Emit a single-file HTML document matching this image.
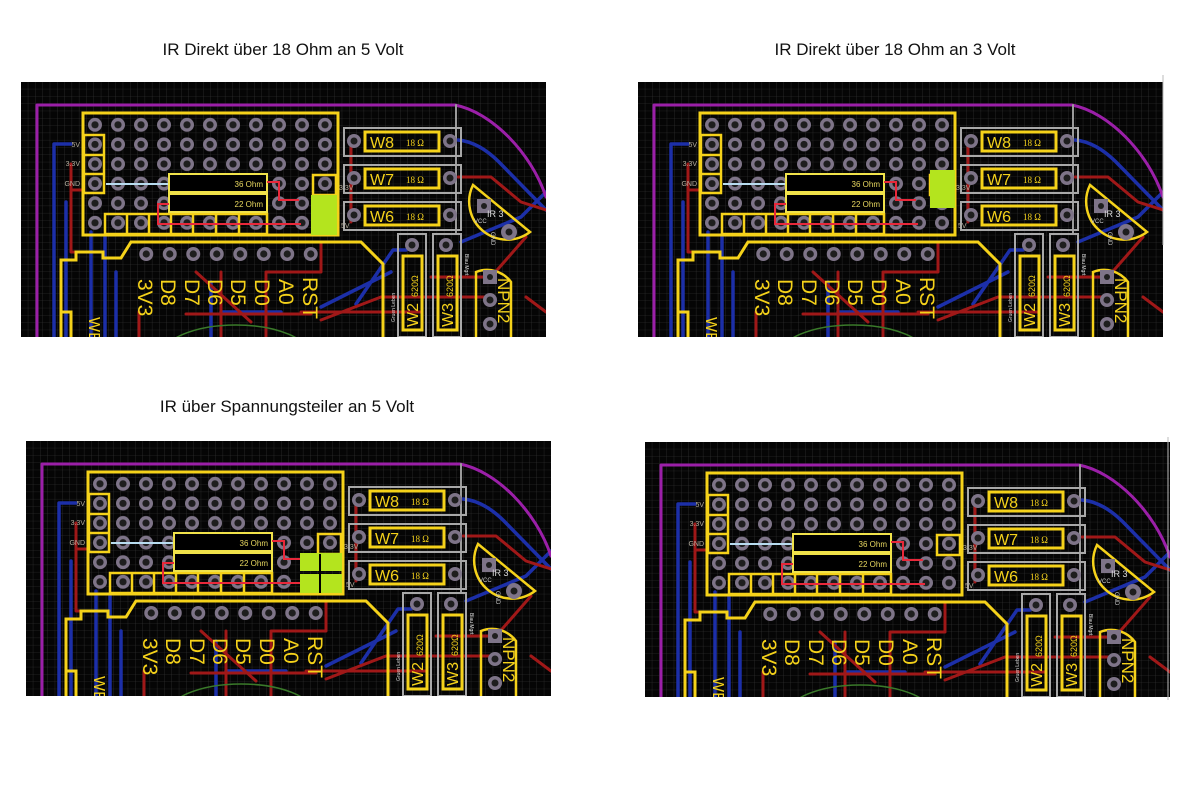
<!DOCTYPE html>
<html><head><meta charset="utf-8"><style>
html,body{margin:0;padding:0;background:#fff;width:1200px;height:792px;overflow:hidden}
svg{display:block}
</style></head><body>
<svg width="1200" height="792" viewBox="0 0 1200 792" xmlns="http://www.w3.org/2000/svg">
<defs>
<clipPath id="pc"><rect x="0" y="0" width="525" height="255"/></clipPath>
<pattern id="grid" width="7.3" height="7.3" patternUnits="userSpaceOnUse">
<path d="M7.3,0 V7.3 H0" fill="none" stroke="#3a3a3a" stroke-width="0.6"/>
</pattern>
<pattern id="holes" x="62.5" y="33" width="23" height="19.6" patternUnits="userSpaceOnUse">
<circle cx="11.5" cy="9.8" r="7" fill="#7e7488"/><circle cx="11.5" cy="9.8" r="3.6" fill="#1e1e1e"/>
</pattern>
<pattern id="pins" x="113.5" y="160" width="23.5" height="24" patternUnits="userSpaceOnUse">
<circle cx="11.75" cy="12" r="7" fill="#7e7488"/><circle cx="11.75" cy="12" r="3.6" fill="#1e1e1e"/>
</pattern>
<g id="base">
<g clip-path="url(#pc)">
<rect width="525" height="255" fill="#050505"/>
<rect width="525" height="255" fill="url(#grid)"/>
<g fill="none" stroke-linecap="round" stroke-linejoin="round">
<path d="M50,62 H33 V255 M45,120 V255 M437,58 Q458,60 478,80 L525,128 M335,222 L372,168 H385 M300,225 L370,190 M70,150 V255 M84,155 V255 M95,190 V255 M190,200 V255 M200,230 H260 M440,160 L500,135 L525,110" stroke="#1c2fa8" stroke-width="3.5"/>
<path d="M50,82 V170 H70 M50,108 H62 M330,60 V140 M437,95 H470 L500,120 L525,128 M300,160 V190 H245 M410,195 H470 L505,155 M280,230 H400 M245,190 V255 M175,190 L230,240 M200,190 V255 M300,238 L360,215 H470 M165,232 H290 M118,230 V255 M505,215 L525,230" stroke="#a01818" stroke-width="3"/>
<path d="M16,255 V23 H434 C470,30 510,70 525,115" stroke="#9b1fa8" stroke-width="3"/>
<path d="M435,23 V152" stroke="#9a9a9a" stroke-width="2"/>
<ellipse cx="215" cy="275" rx="75" ry="32" stroke="#3a7a2a" stroke-width="1.5"/>
</g>
<g fill="none" stroke="#f5d21a" stroke-width="3">
<path d="M40,255 V178 H55 V170 H82 V176 H100 L110,160 H340 L362,182 V255"/>
<path d="M40,230 H50 V255"/>
<rect x="62" y="31" width="255" height="122"/>
</g>
<rect x="62" y="33" width="255" height="120" fill="url(#holes)"/>
<rect x="113" y="160" width="188" height="24" fill="url(#pins)"/>
<g fill="none" stroke="#f5d21a" stroke-width="2.5">
<rect x="63" y="53" width="20" height="58"/><path d="M63,73 H83 M63,92 H83"/>
<rect x="84" y="132" width="162" height="20"/><path d="M106,132 V152 M128,132 V152 M150,132 V152 M172,132 V152 M195,132 V152 M218,132 V152"/>
<rect x="292" y="93" width="23" height="20"/>
</g>
<path d="M85,102 H148" stroke="#b8dcf0" stroke-width="2"/>
<rect x="148" y="92" width="98" height="18" fill="#000" stroke="#f0e24a" stroke-width="2"/>
<rect x="148" y="112" width="98" height="18" fill="#000" stroke="#f0e24a" stroke-width="2"/>
<path d="M246,100 H258 V118 H278 M148,122 H137 V142 H280" fill="none" stroke="#e8283a" stroke-width="2"/>
<g fill="none" stroke="#a8a8a8" stroke-width="2">
<rect x="323" y="46" width="117" height="28"/><rect x="323" y="83" width="117" height="28"/><rect x="323" y="120" width="117" height="28"/>
<rect x="377" y="152" width="28" height="103"/><rect x="412" y="152" width="28" height="103"/>
</g>
<g fill="none" stroke="#f5d21a" stroke-width="3">
<rect x="344" y="50" width="74" height="19"/><rect x="344" y="87" width="74" height="19"/><rect x="344" y="124" width="74" height="19"/>
<rect x="382" y="174" width="19" height="74"/><rect x="417" y="174" width="19" height="74"/>
<path d="M452,103 L509,150 A38,38 0 0 1 452,103 Z" stroke-width="2.5"/>
<path d="M490,255 V200 A30,30 0 0 0 455,190 V255" stroke-width="2.5"/>
</g>
<g fill="#7e7488">
<circle cx="333" cy="59" r="7"/><circle cx="429" cy="59" r="7"/>
<circle cx="333" cy="96" r="7"/><circle cx="429" cy="96" r="7"/>
<circle cx="333" cy="133" r="7"/><circle cx="429" cy="133" r="7"/>
<circle cx="391" cy="163" r="7"/><circle cx="425" cy="163" r="7"/>
<circle cx="488" cy="150" r="8"/><circle cx="469" cy="218" r="7"/><circle cx="469" cy="242" r="7"/>
<rect x="456" y="117" width="14" height="14"/><rect x="462" y="188" width="14" height="14"/>
</g>
<g fill="#1e1e1e">
<circle cx="333" cy="59" r="3.5"/><circle cx="429" cy="59" r="3.5"/>
<circle cx="333" cy="96" r="3.5"/><circle cx="429" cy="96" r="3.5"/>
<circle cx="333" cy="133" r="3.5"/><circle cx="429" cy="133" r="3.5"/>
<circle cx="391" cy="163" r="3.5"/><circle cx="425" cy="163" r="3.5"/>
<circle cx="488" cy="150" r="3.5"/><circle cx="469" cy="218" r="3.5"/><circle cx="469" cy="242" r="3.5"/>
<circle cx="463" cy="124" r="3"/><circle cx="469" cy="195" r="3"/>
</g>
<g font-family="Liberation Sans, sans-serif">
<g font-size="7" fill="#b8b0a0" text-anchor="end">
<text x="59" y="65">5V</text><text x="59" y="84">3.3V</text><text x="59" y="104">GND</text>
</g>
<text x="318" y="108" font-size="7" fill="#b8b0a0">3.3V</text>
<text x="320" y="146" font-size="7" fill="#b8b0a0">5V</text>
<text x="242" y="105" font-size="8" fill="#e8d860" text-anchor="end">36 Ohm</text>
<text x="242" y="125" font-size="8" fill="#e8d860" text-anchor="end">22 Ohm</text>
<g font-size="16" fill="#f5d21a">
<text x="349" y="66">W8</text><text x="349" y="103">W7</text><text x="349" y="140">W6</text>
</g>
<g font-size="9" fill="#f5d21a" font-family="Liberation Serif, serif">
<text x="385" y="64">18 Ω</text><text x="385" y="101">18 Ω</text><text x="385" y="138">18 Ω</text>
</g>
<g font-size="21" fill="#f5d21a">
<text transform="translate(117,197) rotate(90)">3V3</text>
<text transform="translate(140,197) rotate(90)">D8</text>
<text transform="translate(164,197) rotate(90)">D7</text>
<text transform="translate(187,197) rotate(90)">D6</text>
<text transform="translate(210,197) rotate(90)">D5</text>
<text transform="translate(234,197) rotate(90)">D0</text>
<text transform="translate(258,197) rotate(90)">A0</text>
<text transform="translate(282,195) rotate(90)">RST</text>
<text transform="translate(477,196) rotate(90)" font-size="17">NPN2</text>
<text transform="translate(68,235) rotate(90)" font-size="16">WE</text>
</g>
<g fill="#f5d21a">
<text transform="translate(397,245) rotate(-90)" font-size="16">W2</text>
<text transform="translate(432,245) rotate(-90)" font-size="16">W3</text>
<text transform="translate(397,215) rotate(-90)" font-size="9">620Ω</text>
<text transform="translate(432,215) rotate(-90)" font-size="9">620Ω</text>
</g>
<text transform="translate(374,240) rotate(-90)" font-size="5" fill="#ddd">Gruen Leben</text>
<text transform="translate(444,172) rotate(90)" font-size="5" fill="#ddd">Blau Mgrt</text>
<text x="466" y="135" font-size="9" fill="#ddd">IR 3</text>
<text x="453" y="141" font-size="6" fill="#ccc">VCC</text>
<text transform="translate(470,150) rotate(90)" font-size="6" fill="#ccc">GND</text>
</g>
</g>
</g>
</defs>
<g font-family="Liberation Sans, sans-serif" font-size="17" fill="#111" text-anchor="middle">
<text x="283" y="55">IR Direkt über 18 Ohm an 5 Volt</text>
<text x="895" y="55">IR Direkt über 18 Ohm an 3 Volt</text>
<text x="287" y="412">IR über Spannungsteiler an 5 Volt</text>
</g>
<g transform="translate(21,82)"><use href="#base"/><rect x="290" y="113" width="26" height="40" fill="#b4e41e"/></g>
<g transform="translate(638,82)"><use href="#base"/><rect x="292" y="88" width="25" height="38" fill="#b4e41e"/></g>
<g transform="translate(26,441)"><use href="#base"/><rect x="274" y="112" width="42" height="18" fill="#b4e41e"/><rect x="274" y="133" width="42" height="19" fill="#b4e41e"/><path d="M294,113 V152" stroke="#000" stroke-width="2"/></g>
<g transform="translate(645,442)"><use href="#base"/></g>
<path d="M1163,75 V245 M1168,437 V700" stroke="#bbb" stroke-width="1"/>
</svg>
</body></html>
